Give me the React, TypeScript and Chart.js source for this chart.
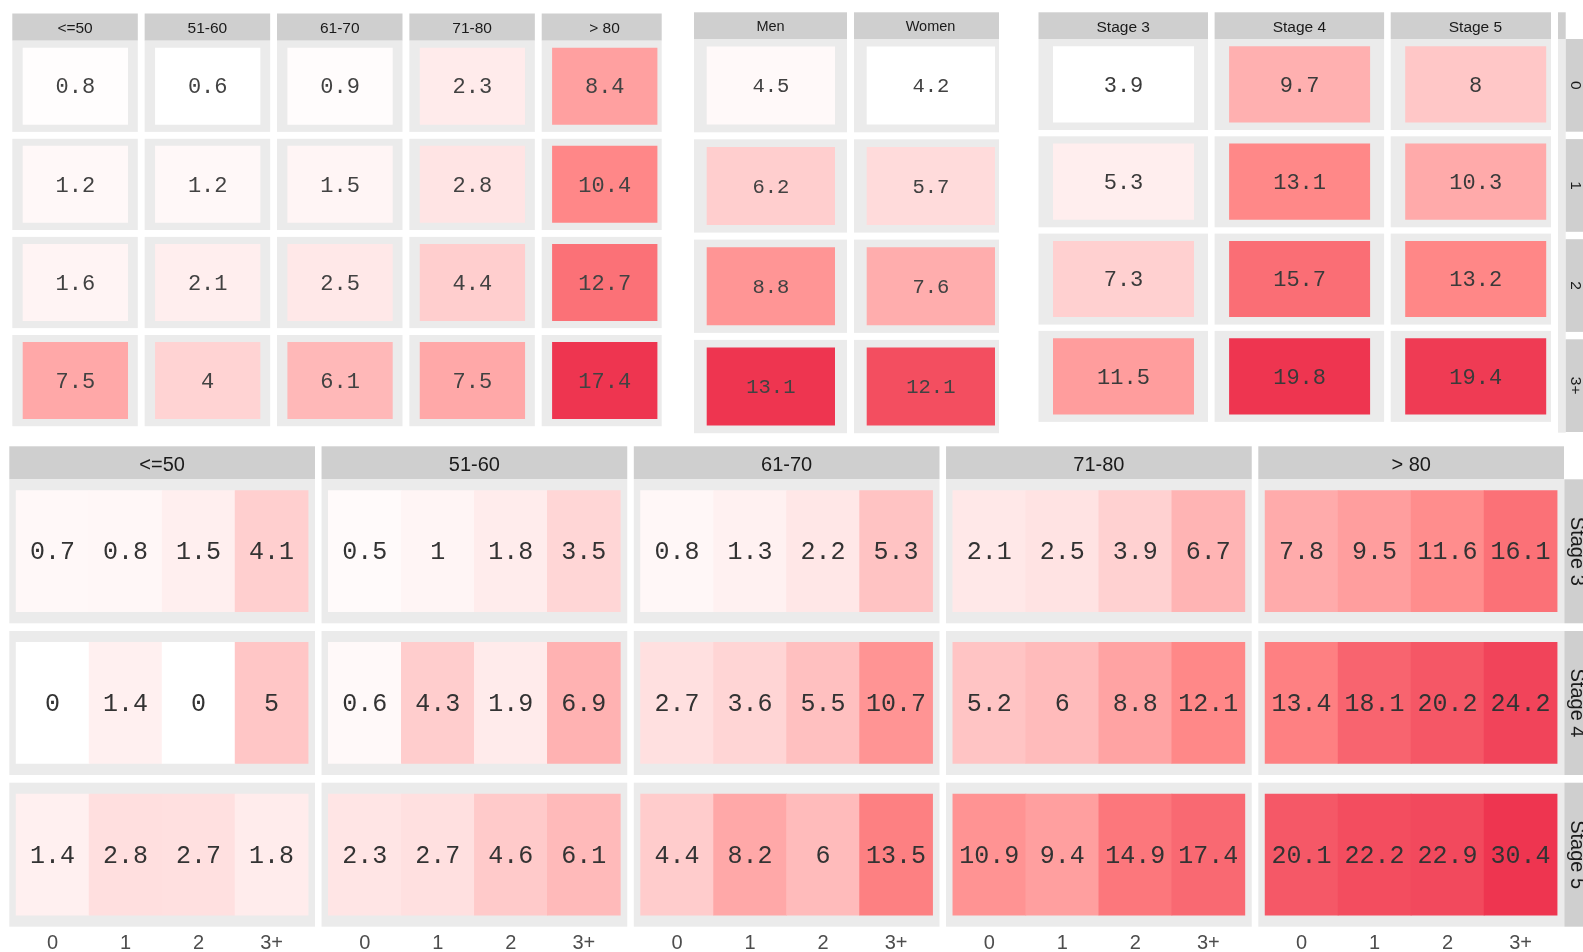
import React, { useEffect, useRef } from "react";
import { Chart, registerables } from "chart.js";

Chart.register(...registerables);

const PAGE_W = 1583;
const PAGE_H = 952;

// ---------------- data ----------------
const ageGroups = ["<=50", "51-60", "61-70", "71-80", "> 80"];
const sexGroups = ["Men", "Women"];
const stageGroups = ["Stage 3", "Stage 4", "Stage 5"];
const comorbidityLevels = ["0", "1", "2", "3+"];

// top-left: rows = comorbidity level (0,1,2,3+), columns = age group
const rateAgeComorb = [
  [0.8, 0.6, 0.9, 2.3, 8.4],
  [1.2, 1.2, 1.5, 2.8, 10.4],
  [1.6, 2.1, 2.5, 4.4, 12.7],
  [7.5, 4, 6.1, 7.5, 17.4],
];
// top-middle: rows = comorbidity level, columns = sex
const rateSexComorb = [
  [4.5, 4.2],
  [6.2, 5.7],
  [8.8, 7.6],
  [13.1, 12.1],
];
// top-right: rows = comorbidity level, columns = stage
const rateStageComorb = [
  [3.9, 9.7, 8],
  [5.3, 13.1, 10.3],
  [7.3, 15.7, 13.2],
  [11.5, 19.8, 19.4],
];
// bottom: one list per stage; per age group, values for comorbidity 0,1,2,3+
const rateStage3 = [
  [0.7, 0.8, 1.5, 4.1],
  [0.5, 1, 1.8, 3.5],
  [0.8, 1.3, 2.2, 5.3],
  [2.1, 2.5, 3.9, 6.7],
  [7.8, 9.5, 11.6, 16.1],
];
const rateStage4 = [
  [0, 1.4, 0, 5],
  [0.6, 4.3, 1.9, 6.9],
  [2.7, 3.6, 5.5, 10.7],
  [5.2, 6, 8.8, 12.1],
  [13.4, 18.1, 20.2, 24.2],
];
const rateStage5 = [
  [1.4, 2.8, 2.7, 1.8],
  [2.3, 2.7, 4.6, 6.1],
  [4.4, 8.2, 6, 13.5],
  [10.9, 9.4, 14.9, 17.4],
  [20.1, 22.2, 22.9, 30.4],
];

// ---------------- styles / layout ----------------
const STRIP_FILL = "#CFCFCF";
const PANEL_FILL = "#EBEBEB";
const STRIP_TEXT = "#1A1A1A";
const AXIS_TEXT = "#4D4D4D";
const SANS = '"Liberation Sans", Arial, Helvetica, sans-serif';
const MONO = '"Liberation Mono", "Courier New", monospace';

const PALETTE: [number, string][] = [
  [0, "#FFFFFF"],
  [0.09, "#FFEEEE"],
  [0.21, "#FFD1D1"],
  [0.37, "#FFAFAF"],
  [0.48, "#FF9D9D"],
  [0.58, "#FF8888"],
  [0.74, "#FA6E75"],
  [1, "#EE3550"],
];

type Geo = {
  left: number; top: number; clipRight: number;
  colPitch: number; panelW: number; tileInsetL: number; tileW: number; tiles: number;
  stripH: number; rowPitch: number; panelH: number; tileInsetT: number; tileH: number;
  stripFont: number; valueFont: number; valueColor: string;
};

const GEO_A: Geo = { left: 12.3, top: 13.5, clipRight: 661.7, colPitch: 132.35, panelW: 125.5, tileInsetL: 10.4, tileW: 105.3, tiles: 1, stripH: 27.2, rowPitch: 98.1, panelH: 91.2, tileInsetT: 7, tileH: 77, stripFont: 15.5, valueFont: 22, valueColor: "#424242" };
const GEO_B: Geo = { left: 694, top: 12.3, clipRight: 999, colPitch: 160, panelW: 153, tileInsetL: 12.7, tileW: 128.3, tiles: 1, stripH: 26.7, rowPitch: 100.3, panelH: 93.3, tileInsetT: 7.6, tileH: 78, stripFont: 14.5, valueFont: 20.5, valueColor: "#424242" };
const GEO_C: Geo = { left: 1038.5, top: 12.3, clipRight: 1551, colPitch: 176.1, panelW: 169.5, tileInsetL: 14.5, tileW: 141, tiles: 1, stripH: 26.7, rowPitch: 97.3, panelH: 91, tileInsetT: 7.3, tileH: 76.2, stripFont: 15.5, valueFont: 22, valueColor: "#3A3A3A" };
const GEO_D: Geo = { left: 9.3, top: 446.3, clipRight: 1564.3, colPitch: 312.25, panelW: 305.7, tileInsetL: 6.8, tileW: 73, tiles: 4, stripH: 33, rowPitch: 151.7, panelH: 144, tileInsetT: 11.4, tileH: 121, stripFont: 20, valueFont: 25, valueColor: "#333333" };

type RightStrip = { x0: number; top: number; pitch: number; h: number; textX: number; font: number; extraCol?: { x0: number; x1: number; stripTop: number; stripBottom: number; bottom: number } };

type Group = {
  id: string; geo: Geo; colLabels: string[]; rowLabels: string[] | null;
  cells: number[][][]; curve: number; xLabels: string[] | null; xLabelY?: number; right?: RightStrip;
};

const groups: Group[] = [
  { id: "A", geo: GEO_A, colLabels: ageGroups, rowLabels: null, cells: rateAgeComorb.map((r) => r.map((v) => [v])), curve: 1, xLabels: null },
  { id: "B", geo: GEO_B, colLabels: sexGroups, rowLabels: null, cells: rateSexComorb.map((r) => r.map((v) => [v])), curve: 1, xLabels: null },
  {
    id: "C", geo: GEO_C, colLabels: stageGroups, rowLabels: comorbidityLevels, cells: rateStageComorb.map((r) => r.map((v) => [v])), curve: 1, xLabels: null,
    right: { x0: 1565.7, top: 39, pitch: 100.1, h: 92.7, textX: 1577, font: 15.5, extraCol: { x0: 1558, x1: 1565.7, stripTop: 12.3, stripBottom: 39, bottom: 432.7 } },
  },
  {
    id: "D", geo: GEO_D, colLabels: ageGroups, rowLabels: stageGroups, cells: [rateStage3, rateStage4, rateStage5], curve: 1.7, xLabels: comorbidityLevels, xLabelY: 942,
    right: { x0: 1564.3, top: 479.3, pitch: 151.7, h: 144, textX: 1578.5, font: 20 },
  },
];

function hexToRgb(h: string) {
  const n = parseInt(h.slice(1), 16);
  return [(n >> 16) & 255, (n >> 8) & 255, n & 255];
}
function colorAt(t: number) {
  const tt = Math.max(0, Math.min(1, t));
  for (let i = 1; i < PALETTE.length; i++) {
    const [t1, c1] = PALETTE[i];
    const [t0, c0] = PALETTE[i - 1];
    if (tt <= t1) {
      const f = (tt - t0) / (t1 - t0);
      const a = hexToRgb(c0), b = hexToRgb(c1);
      return `rgb(${Math.round(a[0] + (b[0] - a[0]) * f)},${Math.round(a[1] + (b[1] - a[1]) * f)},${Math.round(a[2] + (b[2] - a[2]) * f)})`;
    }
  }
  return PALETTE[PALETTE.length - 1][1];
}

function buildDataset(g: Group) {
  const geo = g.geo;
  const all = g.cells.flat(2);
  const lo = Math.min(...all), hi = Math.max(...all);
  const pts: any[] = [], colors: string[] = [], labels: string[] = [];
  g.cells.forEach((row, r) => {
    row.forEach((cell, c) => {
      cell.forEach((v, j) => {
        const lin = (v - lo) / (hi - lo);
        const t = 1 - Math.pow(1 - lin, g.curve);
        pts.push({
          x: c + (geo.tileInsetL + (j + 0.5) * geo.tileW) / geo.colPitch,
          y: [r + geo.tileInsetT / geo.rowPitch, r + (geo.tileInsetT + geo.tileH) / geo.rowPitch],
        });
        colors.push(colorAt(t));
        labels.push(String(v));
      });
    });
  });
  return {
    type: "bar",
    data: pts,
    backgroundColor: colors,
    borderWidth: 0,
    xAxisID: "x" + g.id,
    yAxisID: "y" + g.id,
    barPercentage: geo.tiles === 1 ? geo.tileW / geo.colPitch : 1,
    categoryPercentage: 1,
    grouped: false,
    valueLabels: labels,
  };
}

function buildScales() {
  const scales: any = {};
  const noTicks = (ax: any) => { ax.ticks = []; };
  groups.forEach((g) => {
    const geo = g.geo;
    const rowTop = geo.top + geo.stripH;
    scales["x" + g.id] = { type: "linear", axis: "x", display: false, min: -geo.left / geo.colPitch, max: (PAGE_W - geo.left) / geo.colPitch, afterBuildTicks: noTicks };
    scales["y" + g.id] = { type: "linear", axis: "y", display: false, reverse: true, min: -rowTop / geo.rowPitch, max: (PAGE_H - rowTop) / geo.rowPitch, afterBuildTicks: noTicks };
  });
  return scales;
}

const facetPlugin = {
  id: "facetDecor",
  beforeDatasetsDraw(chart: any) {
    const ctx: CanvasRenderingContext2D = chart.ctx;
    groups.forEach((g) => {
      const geo = g.geo;
      const xs = chart.scales["x" + g.id];
      const ys = chart.scales["y" + g.id];
      const px = (u: number) => xs.getPixelForValue(u);
      const py = (u: number) => ys.getPixelForValue(u);
      const rowTop = geo.top + geo.stripH;
      const pw = geo.panelW / geo.colPitch;
      const ph = geo.panelH / geo.rowPitch;
      const sh = geo.stripH / geo.rowPitch;
      const clipR = px((geo.clipRight - geo.left) / geo.colPitch);
      ctx.save();
      ctx.beginPath();
      ctx.rect(0, 0, clipR, PAGE_H);
      ctx.clip();
      g.colLabels.forEach((lab, c) => {
        const x0 = px(c), x1 = px(c + pw);
        ctx.fillStyle = STRIP_FILL;
        ctx.fillRect(x0, py(-sh), x1 - x0, py(0) - py(-sh));
        g.cells.forEach((_row, r) => {
          ctx.fillStyle = PANEL_FILL;
          ctx.fillRect(x0, py(r), x1 - x0, py(r + ph) - py(r));
        });
        ctx.fillStyle = STRIP_TEXT;
        ctx.font = `${geo.stripFont}px ${SANS}`;
        ctx.textAlign = "center";
        ctx.textBaseline = "alphabetic";
        const cx = (x0 + x1) / 2;
        const cy = (py(-sh) + py(0)) / 2;
        ctx.fillText(lab, cx, cy + geo.stripFont * 0.36 + 0.5);
      });
      ctx.restore();

      if (g.right && g.rowLabels) {
        const rs = g.right;
        const toY = (pxAbs: number) => py((pxAbs - rowTop) / geo.rowPitch);
        const toX = (pxAbs: number) => px((pxAbs - geo.left) / geo.colPitch);
        if (rs.extraCol) {
          const e = rs.extraCol;
          ctx.fillStyle = STRIP_FILL;
          ctx.fillRect(toX(e.x0), toY(e.stripTop), toX(e.x1) - toX(e.x0), toY(e.stripBottom) - toY(e.stripTop));
          ctx.fillStyle = PANEL_FILL;
          ctx.fillRect(toX(e.x0), toY(e.stripBottom), toX(e.x1) - toX(e.x0), toY(e.bottom) - toY(e.stripBottom));
        }
        g.rowLabels.forEach((lab, r) => {
          const y0 = toY(rs.top + r * rs.pitch);
          const y1 = toY(rs.top + r * rs.pitch + rs.h);
          const x0 = toX(rs.x0);
          ctx.fillStyle = STRIP_FILL;
          ctx.fillRect(x0, y0, PAGE_W - x0, y1 - y0);
          ctx.save();
          ctx.translate(toX(rs.textX), (y0 + y1) / 2);
          ctx.rotate(Math.PI / 2);
          ctx.fillStyle = STRIP_TEXT;
          ctx.font = `${rs.font}px ${SANS}`;
          ctx.textAlign = "center";
          ctx.textBaseline = "alphabetic";
          ctx.fillText(lab, 0, rs.font * 0.36);
          ctx.restore();
        });
      }
    });
  },
  afterDatasetsDraw(chart: any) {
    const ctx: CanvasRenderingContext2D = chart.ctx;
    chart.data.datasets.forEach((ds: any, i: number) => {
      const g = groups[i];
      const meta = chart.getDatasetMeta(i);
      const size = g.geo.valueFont;
      ctx.save();
      ctx.fillStyle = g.geo.valueColor;
      ctx.font = `${size}px ${MONO}`;
      ctx.textAlign = "center";
      ctx.textBaseline = "alphabetic";
      meta.data.forEach((el: any, k: number) => {
        const p = el.getProps(["x", "y", "base"], true);
        const cy = (p.y + p.base) / 2;
        ctx.fillText(ds.valueLabels[k], p.x, cy + size * 0.33);
      });
      ctx.restore();

      if (g.xLabels && g.xLabelY) {
        const geo = g.geo;
        const xs = chart.scales["x" + g.id];
        const ys = chart.scales["y" + g.id];
        const rowTop = geo.top + geo.stripH;
        const yc = ys.getPixelForValue((g.xLabelY - rowTop) / geo.rowPitch);
        ctx.save();
        ctx.fillStyle = AXIS_TEXT;
        ctx.font = `20px ${SANS}`;
        ctx.textAlign = "center";
        ctx.textBaseline = "alphabetic";
        g.colLabels.forEach((_c, c) => {
          g.xLabels!.forEach((lab, j) => {
            const u = c + (geo.tileInsetL + (j + 0.5) * geo.tileW) / geo.colPitch;
            ctx.fillText(lab, xs.getPixelForValue(u), yc + 20 * 0.36);
          });
        });
        ctx.restore();
      }
    });
  },
};

export default function App() {
  const ref = useRef<HTMLCanvasElement | null>(null);
  useEffect(() => {
    document.body.style.margin = "0";
    document.body.style.overflow = "hidden";
    document.body.style.background = "#ffffff";
    const chart = new Chart(ref.current as HTMLCanvasElement, {
      type: "bar",
      data: { datasets: groups.map(buildDataset) as any },
      options: {
        responsive: false,
        maintainAspectRatio: false,
        devicePixelRatio: 1,
        animation: false,
        events: [],
        layout: { padding: 0 },
        plugins: { legend: { display: false }, tooltip: { enabled: false } },
        scales: buildScales(),
      } as any,
      plugins: [facetPlugin],
    });
    return () => chart.destroy();
  }, []);
  return (
    <div style={{ position: "relative", width: PAGE_W, height: PAGE_H, background: "#ffffff" }}>
      <canvas ref={ref} width={PAGE_W} height={PAGE_H} style={{ display: "block", width: PAGE_W, height: PAGE_H }} />
    </div>
  );
}
